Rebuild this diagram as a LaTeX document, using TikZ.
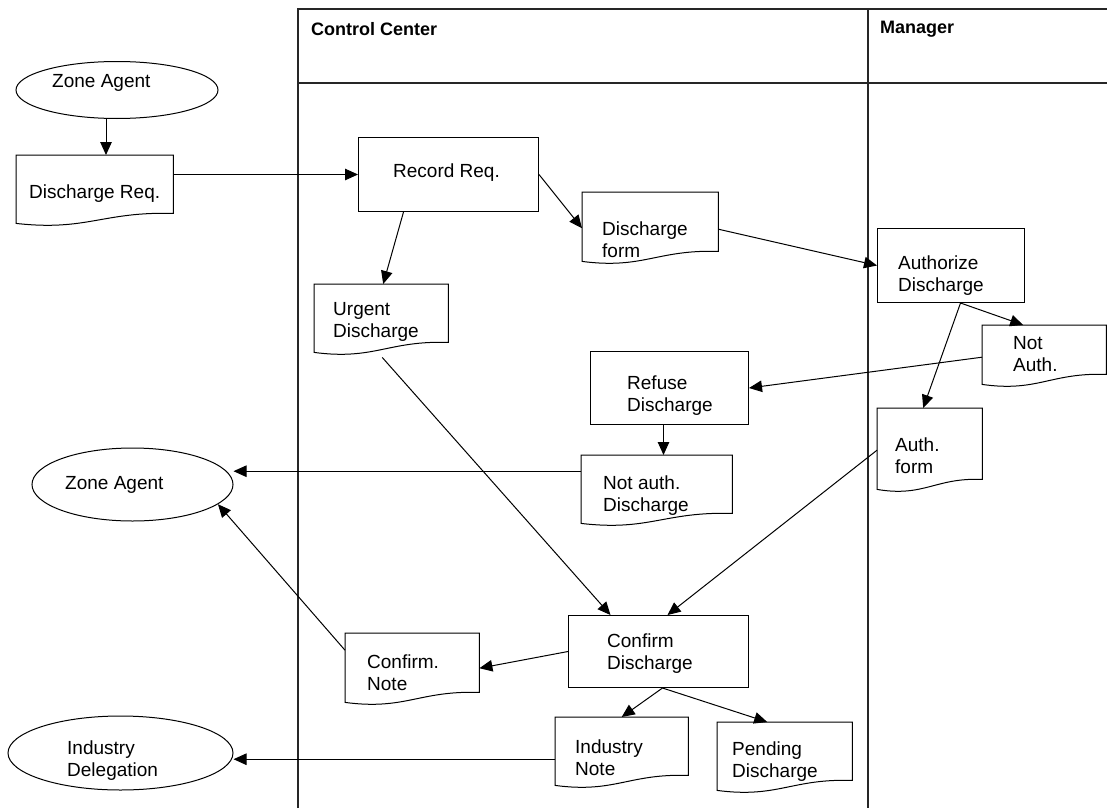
\documentclass[tikz,border=0pt]{standalone}
\usepackage{fontspec}
\setmainfont{Liberation Sans}
\usetikzlibrary{arrows.meta,calc,shapes.geometric}
\tikzset{
  line/.style={line width=1pt, draw=black},
  conn/.style={line width=1pt, draw=black, -{Triangle[length=13pt,width=11.5pt]}},
  procbox/.style={draw, line width=1pt, rectangle, anchor=north west, inner sep=0pt, fill=white},
  docbox/.style={rectangle, anchor=north west, inner sep=0pt},
  term/.style={draw, line width=1pt, ellipse, inner sep=0pt, fill=white},
  txt/.style={anchor=west, align=left, inner sep=0pt, font=\fontsize{19pt}{22pt}\selectfont},
  head/.style={anchor=west, inner sep=0pt, font=\fontsize{18pt}{21pt}\selectfont\bfseries},
  lane/.style={line width=1.3pt, draw=black!85}
}
\newcommand{\docshape}[1]{%
  \draw[line, fill=white] (#1.north west) -- (#1.north east) -- (#1.south east)
   .. controls ($(#1.south west)!0.55!(#1.south east)+(0,2pt)$) and ($(#1.south west)!0.45!(#1.south east)+(0,-18pt)$) .. ([yshift=-10pt]#1.south west) -- cycle;}
\begin{document}
\begin{tikzpicture}[x=1pt,y=-1pt]
\useasboundingbox (0,0) rectangle (1107,808);
% swim lanes
\coordinate (lA) at (298,808);
\coordinate (lB) at (298,9);
\coordinate (lC) at (1107,9);
\coordinate (lD) at (298,83);
\coordinate (lE) at (1107,83);
\coordinate (lF) at (868,9);
\coordinate (lG) at (868,808);
\draw[lane] (lA) -- (lB) -- (lC);
\draw[lane] (lD) -- (lE);
\draw[lane] (lF) -- (lG);

% terminators
\node[term, minimum width=202pt, minimum height=57pt] (zone1) at (117,90) {};
\node[term, minimum width=201pt, minimum height=73pt] (zone2) at (132.5,484.5) {};
\node[term, minimum width=225pt, minimum height=74pt] (inddel) at (120.5,753) {};

% process boxes
\node[procbox, minimum width=180pt, minimum height=74pt] (record) at (358,137) {};
\node[procbox, minimum width=147pt, minimum height=74pt] (auth) at (877,228) {};
\node[procbox, minimum width=158pt, minimum height=73pt] (refuse) at (590,351) {};
\node[procbox, minimum width=180pt, minimum height=72pt] (confirm) at (568,615) {};

% documents
\node[docbox, minimum width=157pt, minimum height=58pt] (dreq) at (16,155) {}; \docshape{dreq}
\node[docbox, minimum width=136pt, minimum height=59pt] (dform) at (582,192) {}; \docshape{dform}
\node[docbox, minimum width=134pt, minimum height=58pt] (urgent) at (314,284) {}; \docshape{urgent}
\node[docbox, minimum width=124pt, minimum height=49pt] (notauth) at (982,325) {}; \docshape{notauth}
\node[docbox, minimum width=105pt, minimum height=71pt] (authform) at (877,408) {}; \docshape{authform}
\node[docbox, minimum width=151pt, minimum height=58pt] (notauthd) at (581,455) {}; \docshape{notauthd}
\node[docbox, minimum width=134pt, minimum height=59pt] (cnote) at (345,633) {}; \docshape{cnote}
\node[docbox, minimum width=133pt, minimum height=58pt] (indnote) at (555,717) {}; \docshape{indnote}
\node[docbox, minimum width=135pt, minimum height=58pt] (pending) at (717,722) {}; \docshape{pending}

% connectors
\draw[conn] ([xshift=-11pt]zone1.south) -- ([xshift=-11pt]zone1.south |- dreq.north);
\draw[conn] (dreq.east |- record.west) -- (record.west);
\draw[conn] (record.east) -- ([yshift=-6.5pt]dform.west);
\draw[conn] ([xshift=-45pt]record.south) -- ([xshift=2pt]urgent.north);
\draw[conn] ([yshift=-7.5pt]dform.east) -- (auth.west);
\draw[conn] ([xshift=9.5pt]auth.south) -- ([xshift=-21pt]notauth.north);
\draw[conn] ([xshift=9.5pt]auth.south) -- ([xshift=-6.5pt]authform.north);
\draw[conn] ([yshift=-7.5pt]notauth.west) -- (refuse.east);
\draw[conn] ([xshift=-6pt]refuse.south) -- ([xshift=-6pt]refuse.south |- notauthd.north);
\draw[conn] ([yshift=13pt]notauthd.west) -- ([yshift=13pt]notauthd.west -| zone2.east);
\draw[conn] ([yshift=12.5pt]cnote.west) -- (zone2.-13);
\draw[conn] (confirm.west) -- ([yshift=-5.5pt]cnote.east);
\draw[conn] ([xshift=1pt,yshift=-15pt]urgent.south) -- ([xshift=-48pt]confirm.north);
\draw[conn] ([yshift=-6.5pt]authform.west) -- ([xshift=9pt]confirm.north);
\draw[conn] ([xshift=4pt]confirm.south) -- (indnote.north);
\draw[conn] ([xshift=4pt]confirm.south) -- ([xshift=-17.5pt]pending.north);
\draw[conn] ([yshift=-13pt]indnote.west) -- ([yshift=-13pt]indnote.west -| inddel.east);

% texts
\node[head] (hcc) at (311,29) {Control Center};
\node[head] (hmg) at (880,29) {Manager};
\node[txt] (tz1) at (52,83) {Zone Agent};
\node[txt] (tdreq) at (29,194) {Discharge Req.};
\node[txt] (trec) at (393,173) {Record Req.};
\node[txt] (tdform) at (602,240) {Discharge\\form};
\node[txt] (turg) at (333,322) {Urgent\\Discharge};
\node[txt] (tauth) at (898,276) {Authorize\\Discharge};
\node[txt] (tna) at (1013,354) {Not\\Auth.};
\node[txt] (taf) at (895,456) {Auth.\\form};
\node[txt] (tref) at (627,396) {Refuse\\Discharge};
\node[txt] (tnad) at (603,496) {Not auth.\\Discharge};
\node[txt] (tz2) at (65,485) {Zone Agent};
\node[txt] (tid) at (67,761) {Industry\\Delegation};
\node[txt] (tcn) at (367,673) {Confirm.\\Note};
\node[txt] (tcd) at (607,654) {Confirm\\Discharge};
\node[txt] (tin) at (575,758) {Industry\\Note};
\node[txt] (tpd) at (732,762) {Pending\\Discharge};
\end{tikzpicture}
\end{document}
